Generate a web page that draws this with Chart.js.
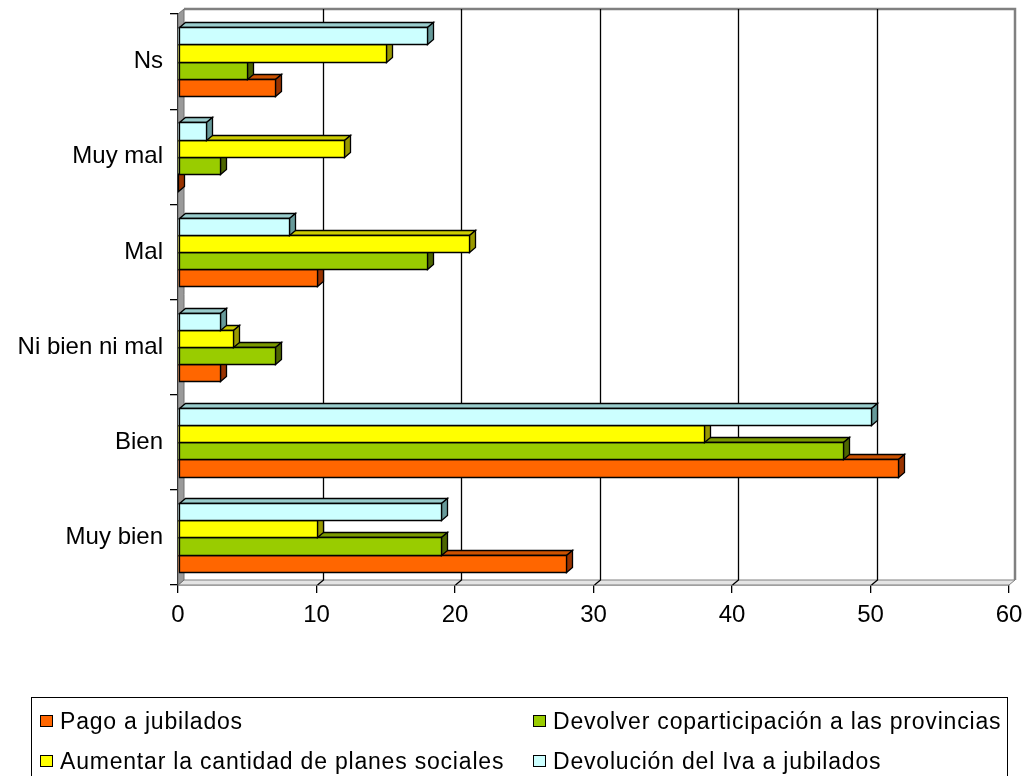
<!DOCTYPE html>
<html>
<head>
<meta charset="utf-8">
<script src="https://cdn.jsdelivr.net/npm/chart.js@4/dist/chart.umd.min.js"></script>
<style>
  body { margin: 0; background: #fff; }
  #wrap { position: relative; width: 1026px; height: 776px; overflow: hidden; }
  #legend {
    position: absolute; left: 31px; top: 697px; width: 977px; height: 120px;
    border: 1.5px solid #000; box-sizing: border-box;
    font-family: "Liberation Sans", Arial, sans-serif; font-size: 23px; letter-spacing: 0.8px;
    display: grid; grid-template-columns: 493px auto; grid-auto-rows: 40px;
    padding: 3px 0 0 8px;
  }
  .item { display: flex; align-items: center; white-space: nowrap; }
  .box { width: 11px; height: 10px; border: 1.5px solid #000; margin-right: 7px; }
</style>
</head>
<body>
<div id="wrap">
  <canvas id="c" width="1026" height="776"></canvas>
  <div id="legend"></div>
</div>
<script>
// categories bottom -> top
const categories = ['Muy bien', 'Bien', 'Ni bien ni mal', 'Mal', 'Muy mal', 'Ns'];

const seriesNames = [
  'Pago a jubilados',
  'Devolver coparticipación a las provincias',
  'Aumentar la cantidad de planes sociales',
  'Devolución del Iva a jubilados'
];

const pagoJubilados   = [28, 52, 3, 10, 0, 7];
const devolverCopart  = [19, 48, 7, 18, 3, 5];
const aumentarPlanes  = [10, 38, 4, 21, 12, 15];
const devolucionIva   = [19, 50, 3, 8, 2, 18];

const xTicks = [0, 10, 20, 30, 40, 50, 60];

const frontCols = ['#FF6600', '#99CC00', '#FFFF00', '#CCFFFF'];
const topCols   = ['#CC5200', '#7A9900', '#CCCC00', '#99CCCC'];
const sideCols  = ['#993300', '#4D6600', '#999900', '#669999'];

const DX = 6, DY = 5;
const FONT = '"Liberation Sans", Arial, sans-serif';

function poly(ctx, pts, fill, stroke) {
  ctx.beginPath();
  ctx.moveTo(pts[0][0], pts[0][1]);
  for (let i = 1; i < pts.length; i++) ctx.lineTo(pts[i][0], pts[i][1]);
  ctx.closePath();
  if (fill) { ctx.fillStyle = fill; ctx.fill(); }
  if (stroke) { ctx.strokeStyle = stroke; ctx.stroke(); }
}

const seriesData = [pagoJubilados, devolverCopart, aumentarPlanes, devolucionIva];
// chart.js puts dataset 0 at the top of each band, so feed them last series first
const order = [3, 2, 1, 0];

const walls = {
  id: 'walls',
  beforeDatasetsDraw(chart) {
    const ctx = chart.ctx, a = chart.chartArea, xs = chart.scales.x;
    const L = a.left, R = a.right, T = a.top, B = a.bottom;
    ctx.save();
    ctx.lineWidth = 1;
    // floor
    poly(ctx, [[L, B], [L + DX, B - DY], [R + DX, B - DY], [R, B]], '#e4e4e4', '#808080');
    // back frame
    ctx.strokeStyle = '#808080';
    ctx.lineWidth = 2.5;
    ctx.beginPath();
    ctx.moveTo(L + DX, T - DY);
    ctx.lineTo(R + DX, T - DY);
    ctx.lineTo(R + DX, B - DY);
    ctx.stroke();
    // grid lines on back wall
    ctx.lineWidth = 1.3;
    ctx.strokeStyle = '#000';
    xTicks.slice(1, -1).forEach(v => {
      const x = Math.round(xs.getPixelForValue(v)) + DX + 0.5;
      ctx.beginPath();
      ctx.moveTo(x, T - DY);
      ctx.lineTo(x, B - DY);
      ctx.lineTo(x - DX, B);
      ctx.stroke();
    });
    // left wall
    ctx.lineWidth = 1;
    poly(ctx, [[L, T], [L + DX, T - DY], [L + DX, B - DY], [L, B]], '#9a9a9a', '#707070');
    ctx.restore();
  },
  afterDatasetsDraw(chart) {
    const ctx = chart.ctx;
    ctx.save();
    ctx.lineWidth = 1.3;
    // bottom bar of each band first, so the bar above hides its top face
    for (let d = chart.data.datasets.length - 1; d >= 0; d--) {
      const s = order[d];
      const meta = chart.getDatasetMeta(d);
      meta.data.forEach(el => {
        const p = el.getProps(['x', 'y', 'base', 'height'], true);
        const x0 = Math.round(p.base) + 0.5, x1 = Math.round(p.x) + 0.5;
        const y0 = Math.round(p.y - p.height / 2) + 0.5, y1 = Math.round(p.y + p.height / 2) + 0.5;
        poly(ctx, [[x0, y0], [x0 + DX, y0 - DY], [x1 + DX, y0 - DY], [x1, y0]], topCols[s], '#000');
        poly(ctx, [[x1, y0], [x1 + DX, y0 - DY], [x1 + DX, y1 - DY], [x1, y1]], sideCols[s], '#000');
        if (x1 > x0) poly(ctx, [[x0, y0], [x1, y0], [x1, y1], [x0, y1]], frontCols[s], '#000');
      });
    }
    ctx.restore();
  }
};

new Chart(document.getElementById('c'), {
  type: 'bar',
  data: {
    labels: categories,
    datasets: order.map(i => ({
      label: seriesNames[i],
      data: seriesData[i],
      backgroundColor: frontCols[i],
      borderWidth: 0,
      categoryPercentage: 0.72,
      barPercentage: 1.0
    }))
  },
  options: {
    indexAxis: 'y',
    responsive: false,
    animation: false,
    events: [],
    layout: { padding: { left: 0, right: 17, top: 14, bottom: 131 } },
    plugins: { legend: { display: false }, tooltip: { enabled: false } },
    scales: {
      x: {
        min: 0, max: 60,
        afterBuildTicks: s => { s.ticks = xTicks.map(v => ({ value: v })); },
        afterFit: s => { s.height = 60; s.paddingLeft = 0; s.paddingRight = 0; },
        grid: { drawOnChartArea: false, tickLength: 8, color: '#000', lineWidth: 1.3 },
        border: { display: true, color: '#000', width: 1.3 },
        ticks: { color: '#000', font: { family: FONT, size: 24 }, padding: 8 }
      },
      y: {
        reverse: true,
        afterFit: s => { s.width = 178; s.paddingTop = 0; s.paddingBottom = 0; },
        grid: { drawOnChartArea: false, tickLength: 8, color: '#000', lineWidth: 1.3, offset: true },
        border: { display: true, color: '#000', width: 1.3 },
        ticks: { color: '#000', font: { family: FONT, size: 24 }, padding: 7 }
      }
    }
  },
  plugins: [walls]
});

// legend, in series order
const lg = document.getElementById('legend');
seriesNames.forEach((n, i) => {
  const it = document.createElement('div');
  it.className = 'item';
  it.innerHTML = '<span class="box" style="background:' + frontCols[i] + '"></span><span>' + n + '</span>';
  lg.appendChild(it);
});
</script>
</body>
</html>
